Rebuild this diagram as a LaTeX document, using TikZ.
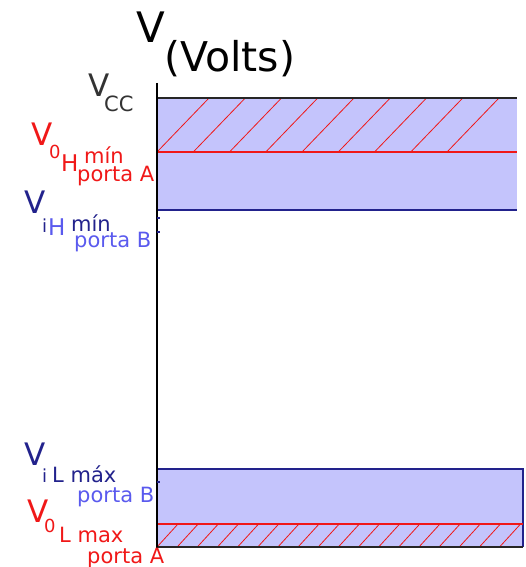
\documentclass[tikz,border=0pt]{standalone}
\usepackage{fontspec}
\setmainfont{DejaVu Sans}
\usepackage{tikz}
\definecolor{navy}{HTML}{22228C}
\definecolor{lightblue}{HTML}{5A5AEE}
\definecolor{bandfill}{HTML}{C4C4FC}
\definecolor{vred}{HTML}{F01818}

\begin{document}
\begin{tikzpicture}[x=1pt, y=-1pt,
  every node/.style={inner sep=0pt, anchor=base west},
  title/.style={font=\fontsize{42}{42}\selectfont},
  unit/.style={font=\fontsize{41}{41}\selectfont},
  lv/.style={font=\fontsize{31}{31}\selectfont},
  ls/.style={font=\fontsize{21}{21}\selectfont},
  ld/.style={font=\fontsize{18}{18}\selectfont},
  lh/.style={font=\fontsize{23}{23}\selectfont},
  hatch/.style={vred, line width=0.8pt},
  edge/.style={line width=1.4pt}
]
  \useasboundingbox (0,0) rectangle (525,567);

  % bands
  \fill[bandfill] (157,98) rectangle (517,210);
  \fill[bandfill] (157,469) rectangle (523,547);

  % hatching
  \foreach \k in {0,...,8}
    \draw[hatch] ({157+36.25*\k},152) -- ({209+36.25*\k},98);
  \foreach \k in {0,...,17}
    \draw[hatch] ({157+20.15*\k},547) -- ({178+20.15*\k},524);

  % band edges
  \draw[edge, black!85] (157,98) -- (517,98);
  \draw[edge, vred] (157,152) -- (517,152);
  \draw[edge, navy] (157,210) -- (517,210);
  \draw[edge, navy] (157,469) -- (523,469) -- (523,547);
  \draw[edge, vred] (157,524) -- (523,524);
  \draw[edge, black!85] (157,547) -- (523,547);

  % axis and its small marks
  \draw[line width=1.6pt] (157,83) -- (157,548);
  \foreach \y in {218,232,482}
    \draw[navy, line width=1.2pt] (157,\y) -- (159.5,\y);

  % title
  \node[title] (tv) at (136,43) {V};
  \node[unit] (tunit) at (164,72) {(Volts)};

  % Vcc
  \node[lv, black!80] (vcc) at (88,97) {V};
  \node[ls, black!80] (vccsub) at (104,112) {CC};

  % V0H min porta A
  \node[lv, vred] (vohv) at (31,145) {V};
  \node[ld, vred] (voh0) at (49,158) {0};
  \node[lh, vred] (vohh) at (61,171) {H};
  \node[ls, vred] (vohmin) at (84,163) {mín};
  \node[ls, vred] (vohporta) at (77,181) {porta A};

  % ViH min porta B
  \node[lv, navy] (vihv) at (24,213) {V};
  \node[ld, navy] (vihi) at (42,232) {i};
  \node[lh, lightblue] (vihh) at (48,235) {H};
  \node[ls, navy] (vihmin) at (71,231) {mín};
  \node[ls, lightblue] (vihporta) at (74,247) {porta B};

  % ViL max porta B
  \node[lv, navy] (vilv) at (24,465) {V};
  \node[ld, navy] (vili) at (42,482) {i};
  \node[ls, navy] (vilmax) at (52,482) {L máx};
  \node[ls, lightblue] (vilporta) at (77,502) {porta B};

  % V0L max porta A
  \node[lv, vred] (volv) at (27,522) {V};
  \node[ld, vred] (vol0) at (44,532) {0};
  \node[ls, vred] (volmax) at (59,542) {L max};
  \node[ls, vred] (volporta) at (87,563) {porta A};
\end{tikzpicture}
\end{document}
